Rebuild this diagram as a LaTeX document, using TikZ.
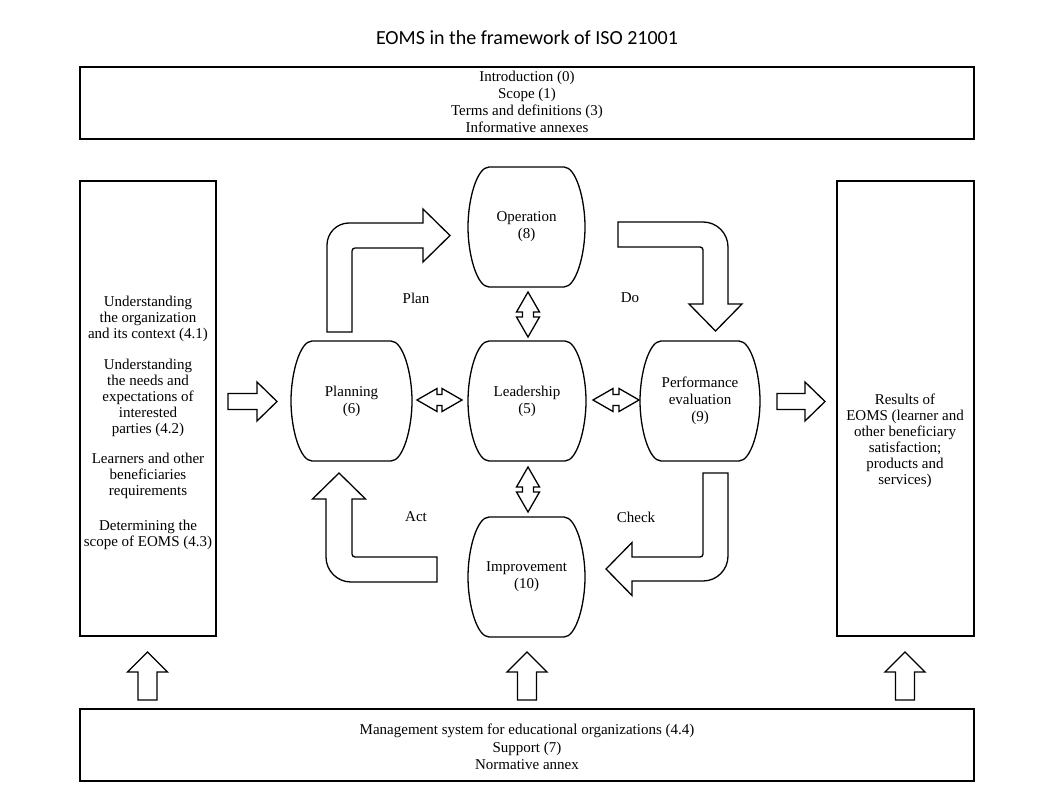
\documentclass[tikz,border=0pt]{standalone}
\usepackage{fontspec}
\setmainfont{Liberation Serif}
\newfontfamily\titlefont{Carlito}
\usetikzlibrary{calc}
\newcommand\barrelnode[6]{%
  \node[barreltext,minimum width={#4-#2},minimum height={#5-#3}] (#1) at ({(#2+#4)/2},{(#3+#5)/2}) {#6};
  \draw[bline] (#2+21,#3) -- (#4-21,#3) .. controls (#4-9,#3) and (#4,#3+32) .. (#4,{(#3+#5)/2})
    .. controls (#4,#5-32) and (#4-9,#5) .. (#4-21,#5) -- (#2+21,#5)
    .. controls (#2+9,#5) and (#2,#5-32) .. (#2,{(#3+#5)/2})
    .. controls (#2,#3+32) and (#2+9,#3) .. cycle;}
\newcommand\blkup[3]{%
  \draw[blk] (#1-9.5,#2) -- (#1-9.5,#3+20) -- (#1-20,#3+20) -- (#1,#3) -- (#1+20,#3+20) -- (#1+9.5,#3+20) -- (#1+9.5,#2) -- cycle;}
\newcommand\blkright[3]{%
  \draw[blk] (#2,#1-8) -- (#3-20,#1-8) -- (#3-20,#1-19.5) -- (#3,#1) -- (#3-20,#1+19.5) -- (#3-20,#1+8) -- (#2,#1+8) -- cycle;}
\newcommand\dblv[3]{%
  \draw[blk] (#1,#2) -- (#1+11.5,#2+20) -- (#1+5.5,#2+20) -- (#1+5.5,#3-20) -- (#1+11.5,#3-20) -- (#1,#3)
    -- (#1-11.5,#3-20) -- (#1-5.5,#3-20) -- (#1-5.5,#2+20) -- (#1-11.5,#2+20) -- cycle;}
\newcommand\dblh[3]{%
  \draw[blk] (#2,#1) -- (#2+20,#1-11.5) -- (#2+20,#1-5.5) -- (#3-20,#1-5.5) -- (#3-20,#1-11.5) -- (#3,#1)
    -- (#3-20,#1+11.5) -- (#3-20,#1+5.5) -- (#2+20,#1+5.5) -- (#2+20,#1+11.5) -- cycle;}
\begin{document}
\begin{tikzpicture}[x=1pt,y=-1pt,
  box/.style={draw,line width=1.8pt,inner sep=0pt},
  blk/.style={draw,line width=1.3pt,fill=white,line join=miter},
  bline/.style={draw,line width=1.3pt},
  barreltext/.style={inner sep=0pt,align=center,font=\fontsize{15}{17}\selectfont},
  txt/.style={inner sep=0pt,align=center,font=\fontsize{15}{16}\selectfont},
  lbl/.style={inner sep=0pt,font=\fontsize{15}{16}\selectfont}]
\useasboundingbox (0,0) rectangle (1056,799);

\node[font=\titlefont\fontsize{20}{24}\selectfont] (title) at (527,38) {EOMS in the framework of ISO 21001};

% frame boxes
\node[box,minimum width=894pt,minimum height=72pt] (topbox) at (527,103) {};
\node[txt,font=\fontsize{15}{17}\selectfont] (toptext) at (527,102) {Introduction (0)\\Scope (1)\\Terms and definitions (3)\\Informative annexes};
\node[box,minimum width=894pt,minimum height=72pt] (botbox) at (527,745) {};
\node[txt,font=\fontsize{15}{17.5}\selectfont] (bottext) at (527,747) {Management system for educational organizations (4.4)\\Support (7)\\Normative annex};
\node[box,minimum width=136pt,minimum height=455pt] (leftbox) at (148,408.5) {};
\node[txt] (lefttext) at (148,423) {Understanding\\the organization\\and its context (4.1)\\[15pt]Understanding\\the needs and\\expectations of\\interested\\parties (4.2)\\[14pt]Learners and other\\beneficiaries\\requirements\\[19pt]Determining the\\scope of EOMS (4.3)};
\node[box,minimum width=137pt,minimum height=455pt] (rightbox) at (905.5,408.5) {};
\node[txt] (righttext) at (905,441) {Results of\\EOMS (learner and\\other beneficiary\\satisfaction;\\products and\\services)};

% process nodes
\barrelnode{operation}{468}{167}{585}{287}{Operation\\(8)}
\barrelnode{planning}{291}{341}{412}{461}{Planning\\(6)}
\barrelnode{leadership}{468}{341}{586}{461}{Leadership\\(5)}
\barrelnode{performance}{640}{341}{760}{461}{Performance\\evaluation\\(9)}
\barrelnode{improvement}{468}{517}{585}{637}{Improvement\\(10)}

% labels
\node[lbl] (plan) at (416,298) {Plan};
\node[lbl] (do) at (630,298) {Do};
\node[lbl] (act) at (416,517) {Act};
\node[lbl] (check) at (636,517) {Check};

% PDCA bent arrows
\draw[blk] (327,332) -- (327,245) .. controls (327,232.9) and (336.9,223) .. (349,223) -- (423,223) -- (423,209)
  -- (450,235.5) -- (423,262) -- (423,248) -- (355,248) .. controls (353.3,248) and (352,249.3) .. (352,251) -- (352,332) -- cycle;
\draw[blk] (618,222) -- (703,222) .. controls (716.8,222) and (728,233.2) .. (728,247) -- (728,304) -- (742,304)
  -- (715.5,331) -- (689,304) -- (703,304) -- (703,250) .. controls (703,248.3) and (701.7,247) .. (700,247) -- (618,247) -- cycle;
\draw[blk] (339,473) -- (365.5,499) -- (352,499) -- (352,554) .. controls (352,555.7) and (353.3,557) .. (355,557) -- (437,557)
  -- (437,582) -- (351,582) .. controls (337.2,582) and (326,570.8) .. (326,557) -- (326,499) -- (312.5,499) -- cycle;
\draw[blk] (703,473) -- (728,473) -- (728,556) .. controls (728,569.8) and (716.8,581) .. (703,581) -- (632,581) -- (632,595.5)
  -- (606,569) -- (632,542.5) -- (632,557) -- (700,557) .. controls (701.7,557) and (703,555.7) .. (703,554) -- cycle;

% double arrows around leadership
\dblv{528}{292}{337}
\dblv{528}{467}{512}
\dblh{400}{417}{462}
\dblh{400}{593}{639}

% single block arrows
\blkright{401.5}{228}{277}
\blkright{401.5}{777}{825}
\blkup{147.5}{700}{652}
\blkup{527}{700}{652}
\blkup{905}{700}{652}
\end{tikzpicture}
\end{document}
